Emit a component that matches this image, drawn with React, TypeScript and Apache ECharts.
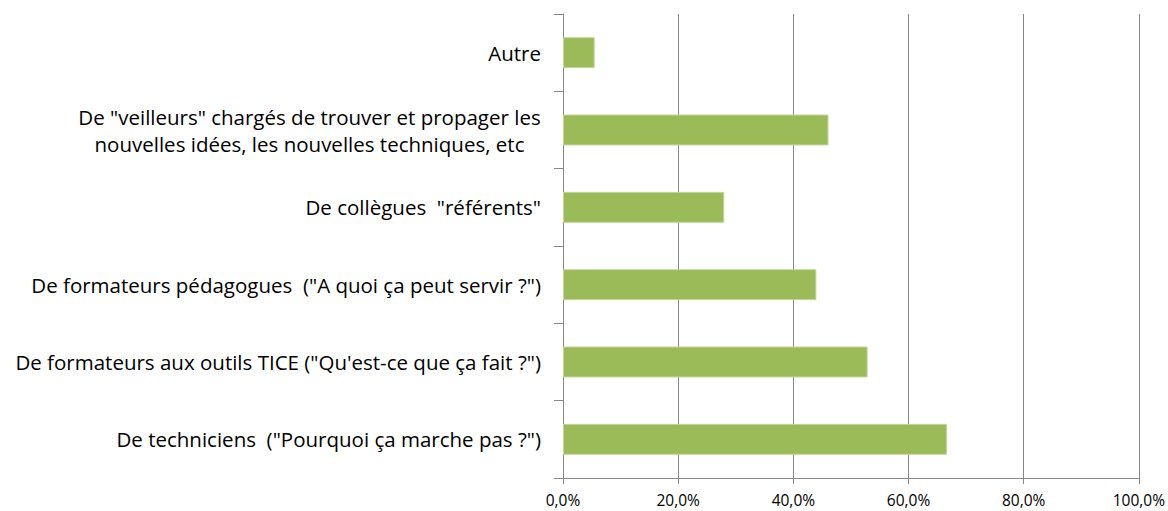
import React, { useEffect, useRef } from "react";
import * as echarts from "echarts";

const categories = [
  'De techniciens  ("Pourquoi ça marche pas ?")',
  'De formateurs aux outils TICE ("Qu\'est-ce que ça fait ?")',
  'De formateurs pédagogues  ("A quoi ça peut servir ?")',
  'De collègues  "référents"',
  'De "veilleurs" chargés de trouver et propager les\nnouvelles idées, les nouvelles techniques, etc',
  "Autre",
];
const values = [66.7, 52.9, 44.0, 28.0, 46.1, 5.5];
const xTicks = [0, 20, 40, 60, 80, 100];

const FONT = "'Open Sans', sans-serif";

function measure(text: string, fs: number): number {
  const c = document.createElement("canvas");
  const ctx = c.getContext("2d");
  if (!ctx) return text.length * fs * 0.5;
  ctx.font = `${fs}px ${FONT}`;
  return ctx.measureText(text).width;
}

export default function App() {
  const ref = useRef<HTMLDivElement>(null);
  useEffect(() => {
    if (!ref.current) return;
    // font sizes chosen so the label widths match the reference layout
    const FS = Math.round((16 * 422) / measure(categories[0], 16) * 2) / 2;
    const XFS = Math.round((12 * 53) / measure("100,0%", 12) * 2) / 2;
    const chart = echarts.init(ref.current, undefined, { renderer: "svg" });
    const multi = categories.find((c) => c.includes("\n")) || "";
    const w = Math.ceil(Math.max(...multi.split("\n").map((l) => measure(l, FS))));
    chart.setOption({
      animation: false,
      backgroundColor: "#ffffff",
      grid: { left: 563, right: 29, top: 14, bottom: 33, containLabel: false },
      xAxis: {
        type: "value",
        min: xTicks[0],
        max: xTicks[xTicks.length - 1],
        interval: 20,
        axisLine: { show: true, lineStyle: { color: "#868686", width: 1 } },
        axisTick: { show: true, length: 6, lineStyle: { color: "#868686" } },
        splitLine: { show: true, lineStyle: { color: "#868686", width: 1 } },
        axisLabel: {
          color: "#000000",
          fontSize: XFS,
          fontFamily: FONT,
          lineHeight: 12,
          margin: 16,
          formatter: (v: number) => v.toFixed(1).replace(".", ",") + "%",
        },
      },
      yAxis: {
        type: "category",
        data: categories,
        axisLine: { show: true, lineStyle: { color: "#868686", width: 1 } },
        axisTick: { show: true, length: 9, lineStyle: { color: "#868686" } },
        splitLine: { show: false },
        axisLabel: {
          color: "#000000",
          fontSize: FS,
          fontFamily: FONT,
          margin: 22,
          lineHeight: 27,
          formatter: (v: string) =>
            v.includes("\n")
              ? v
                  .split("\n")
                  .map((l) => `{c|${l}}`)
                  .join("\n")
              : v,
          rich: {
            c: {
              width: w,
              align: "center",
              fontSize: FS,
              fontFamily: FONT,
              color: "#000000",
              lineHeight: 27,
            },
          },
        },
      },
      series: [
        {
          type: "bar",
          data: values,
          barCategoryGap: "60%",
          itemStyle: { color: "#9bbb59", borderColor: "#c3d69b", borderWidth: 1 },
        },
      ],
    });
    return () => chart.dispose();
  }, []);
  return (
    <div
      ref={ref}
      style={{ position: "fixed", left: 0, top: 0, width: 1168, height: 511 }}
    />
  );
}
